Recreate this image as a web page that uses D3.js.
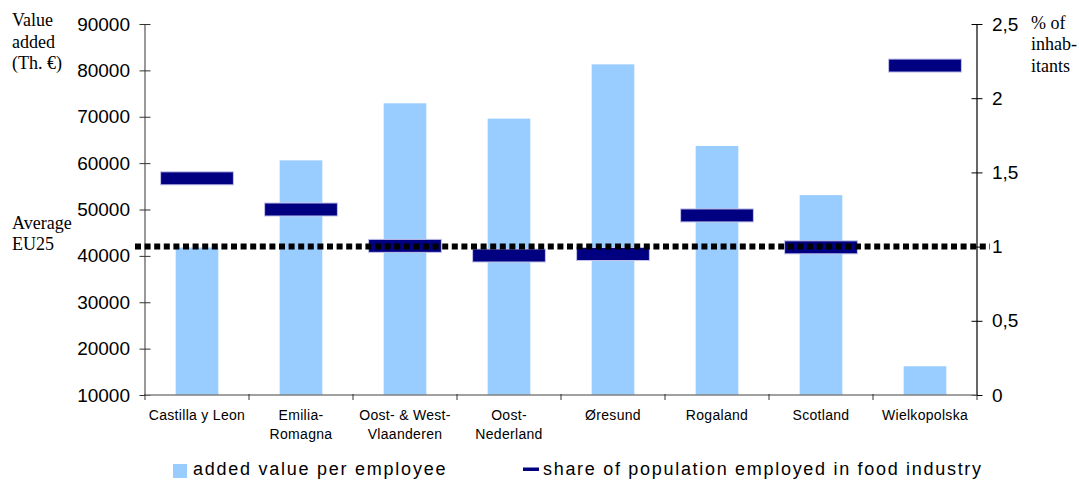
<!DOCTYPE html>
<html>
<head>
<meta charset="utf-8">
<script src="https://cdn.jsdelivr.net/npm/d3@7"></script>
<style>
  html, body { margin: 0; padding: 0; background: #fff; }
  svg { display: block; }
  .sans { font-family: "Liberation Sans", Arial, sans-serif; }
  .serif { font-family: "Liberation Serif", "Times New Roman", serif; }
</style>
</head>
<body>
<svg id="chart" width="1079" height="480"></svg>
<script>
const categories = ["Castilla y Leon", "Emilia-\nRomagna", "Oost- & West-\nVlaanderen", "Oost-\nNederland", "Øresund", "Rogaland", "Scotland", "Wielkopolska"];
const addedValue = [41800, 60600, 72900, 69600, 81300, 63700, 53100, 16200];
const shareEmployed = [1.46, 1.25, 1.005, 0.94, 0.95, 1.21, 0.995, 2.22];
const averageEU25 = 1.0;
const leftTicks = [10000, 20000, 30000, 40000, 50000, 60000, 70000, 80000, 90000];
const rightTicks = [0, 0.5, 1, 1.5, 2, 2.5];
const leftTitle = ["Value", "added", "(Th. €)"];
const rightTitle = ["% of", "inhab-", "itants"];
const avgLabel = ["Average", "EU25"];
const legendLabels = ["added value per employee", "share of population employed in food industry"];

const svg = d3.select("#chart");
const X0 = 145, X1 = 977, Y0 = 395, Y1 = 24;

const x = d3.scaleBand().domain(categories).range([X0, X1]).padding(0);
const yL = d3.scaleLinear().domain([10000, 90000]).range([Y0, Y1]);
const yR = d3.scaleLinear().domain([0, 2.5]).range([Y0, Y1]);
const barFrac = 0.41, markFrac = 0.70;
const bw = x.bandwidth();

// bars
svg.append("g").selectAll("rect").data(categories).join("rect")
  .attr("x", (d) => x(d) + bw * (1 - barFrac) / 2)
  .attr("width", bw * barFrac)
  .attr("y", (d, i) => yL(addedValue[i]))
  .attr("height", (d, i) => Y0 - yL(addedValue[i]))
  .attr("fill", "#99CCFF");

// share markers
svg.append("g").selectAll("rect").data(categories).join("rect")
  .attr("x", (d) => x(d) + bw * (1 - markFrac) / 2)
  .attr("width", bw * markFrac)
  .attr("y", (d, i) => yR(shareEmployed[i]) - 6.5)
  .attr("height", 13)
  .attr("fill", "#000080")
  .attr("stroke", "#c4c4ec")
  .attr("stroke-width", 1);

// left axis
const gL = svg.append("g").attr("transform", `translate(${X0},0)`).attr("class", "sans")
  .call(d3.axisLeft(yL).tickValues(leftTicks).tickFormat(d3.format("d")).tickSize(5.5).tickPadding(9));
gL.select(".domain").attr("stroke", "#808080").attr("stroke-width", 1.6).attr("d", `M0,${Y0}V${Y1}`);
gL.selectAll(".tick line").attr("x1", -5.5).attr("x2", 5.5).attr("stroke", "#333");
gL.selectAll(".tick text").attr("font-size", 19).attr("fill", "#000")
  .attr("font-family", "Liberation Sans, Arial, sans-serif").attr("x", -15);

// right axis
const gR = svg.append("g").attr("transform", `translate(${X1},0)`)
  .call(d3.axisRight(yR).tickValues(rightTicks).tickFormat((d) => String(d).replace(".", ",")).tickSize(5.5).tickPadding(9));
gR.select(".domain").attr("stroke", "#000").attr("stroke-width", 1.2).attr("d", `M0,${Y0}V${Y1}`);
gR.selectAll(".tick line").attr("x1", -5.5).attr("x2", 5.5).attr("stroke", "#000");
gR.selectAll(".tick text").attr("font-size", 19).attr("fill", "#000")
  .attr("font-family", "Liberation Sans, Arial, sans-serif").attr("x", 15);

// bottom axis
const gB = svg.append("g");
gB.append("line").attr("x1", X0).attr("x2", X1).attr("y1", Y0).attr("y2", Y0)
  .attr("stroke", "#808080").attr("stroke-width", 1.6);
const bounds = categories.map((c) => x(c)).concat([x(categories[categories.length - 1]) + bw]);
gB.selectAll("line.tk").data(bounds).join("line").attr("class", "tk")
  .attr("x1", (d) => d).attr("x2", (d) => d).attr("y1", Y0 - 1).attr("y2", Y0 + 5)
  .attr("stroke", "#333").attr("stroke-width", 1);
const lbl = gB.selectAll("text").data(categories).join("text")
  .attr("class", "sans").attr("font-size", 14).attr("letter-spacing", 0.3)
  .attr("text-anchor", "middle").attr("fill", "#000");
lbl.each(function (d) {
  const lines = d.split("\n");
  const t = d3.select(this);
  lines.forEach((ln, i) => {
    t.append("tspan").attr("x", x(d) + bw / 2).attr("y", 420 + i * 19).text(ln);
  });
});

// average dotted line
svg.append("line")
  .attr("x1", X0 - 10).attr("x2", X1 + 13)
  .attr("y1", yR(averageEU25)).attr("y2", yR(averageEU25))
  .attr("stroke", "#000").attr("stroke-width", 6).attr("stroke-dasharray", "6,3.6");

// titles
const tL = svg.append("text").attr("class", "serif").attr("font-size", 18).attr("fill", "#000");
leftTitle.forEach((s, i) => tL.append("tspan").attr("x", 12).attr("y", 26 + i * 21.5).text(s));
const tR = svg.append("text").attr("class", "serif").attr("font-size", 18).attr("fill", "#000");
rightTitle.forEach((s, i) => tR.append("tspan").attr("x", 1031).attr("y", 28.5 + i * 21.7).text(s));
const tA = svg.append("text").attr("class", "serif").attr("font-size", 18).attr("fill", "#000");
avgLabel.forEach((s, i) => tA.append("tspan").attr("x", 12).attr("y", 229 + i * 21).text(s));

// legend
const lg = svg.append("g").attr("class", "sans");
lg.append("rect").attr("x", 173).attr("y", 464).attr("width", 14).attr("height", 14).attr("fill", "#99CCFF");
lg.append("text").attr("x", 193).attr("y", 474.5).attr("font-size", 18).attr("letter-spacing", 1.75)
  .attr("fill", "#000").text(legendLabels[0]);
lg.append("rect").attr("x", 523).attr("y", 467.5).attr("width", 16).attr("height", 3.5).attr("fill", "#000080");
lg.append("text").attr("x", 543).attr("y", 474.5).attr("font-size", 18).attr("letter-spacing", 1.7)
  .attr("fill", "#000").text(legendLabels[1]);
</script>
</body>
</html>
